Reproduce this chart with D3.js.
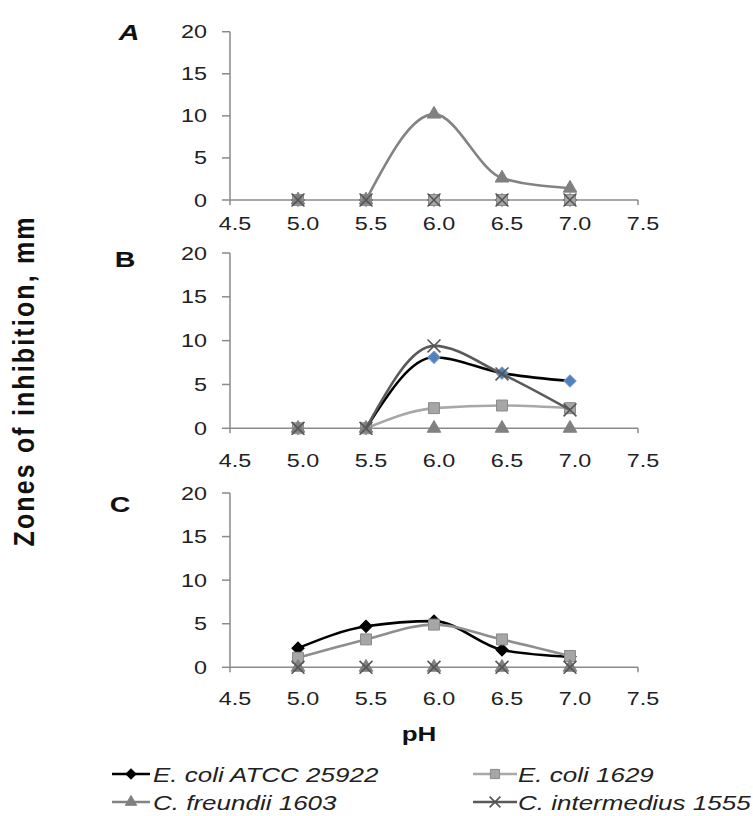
<!DOCTYPE html>
<html>
<head>
<meta charset="utf-8">
<script src="https://cdn.jsdelivr.net/npm/d3@7"></script>
<style>
  body { margin: 0; background: #fff; }
  text { font-family: "Liberation Sans", Arial, sans-serif; }
</style>
</head>
<body>
<div id="chart"></div>
<script>
// pH values measured, axis ticks
var phValues = [5.0, 5.5, 6.0, 6.5, 7.0];
var xTicks = [4.5, 5.0, 5.5, 6.0, 6.5, 7.0, 7.5];
var yTicks = [0, 5, 10, 15, 20];
var panelNames = ["A", "B", "C"];

// zones of inhibition (mm), one row per panel A, B, C
var ecoliAtcc = [
  [0, 0, 0, 0, 0],
  [0, 0, 8.1, 6.3, 5.4],
  [2.2, 4.7, 5.3, 2.0, 1.2]
];
var ecoli1629 = [
  [0, 0, 0, 0, 0],
  [0, 0, 2.3, 2.6, 2.3],
  [1.1, 3.2, 4.9, 3.2, 1.3]
];
var cFreundii = [
  [0, 0, 10.2, 2.6, 1.4],
  [0, 0, 0, 0, 0],
  [0, 0, 0, 0, 0]
];
var cIntermedius = [
  [0, 0, 0, 0, 0],
  [0, 0, 9.4, 6.2, 2.1],
  [0, 0, 0, 0, 0]
];
var seriesNames = ["E. coli ATCC 25922", "E. coli 1629", "C. freundii 1603", "C. intermedius 1555"];

var width = 753;
var height = 816;
var sx = 1.3; // text in the source is stretched sideways

var svg = d3.select("#chart")
  .append("svg")
  .attr("width", width)
  .attr("height", height);

var x = d3.scaleLinear()
  .domain([4.5, 7.5])
  .range([230, 638]);

// top / bottom of each panel's y range, x label offset, panel letter pos
var panels = [
  { top: 31.7, bottom: 200, labDy: 30, lx: 129, ly: 39.5, italic: true },
  { top: 253, bottom: 428.3, labDy: 39, lx: 125, ly: 267, italic: false },
  { top: 493, bottom: 667.3, labDy: 38, lx: 120, ly: 512, italic: false }
];

var styles = [
  { line: "#000000", width: 2.6, sym: d3.symbolSquare, rot: 45, size: 75, fill: "#000000", stroke: "#000000" },
  { line: "#a8a8a8", width: 2.6, sym: d3.symbolSquare, rot: 0, size: 120, fill: "#a6a6a6", stroke: "#8a8a8a" },
  { line: "#838383", width: 2.6, sym: d3.symbolTriangle, rot: 0, size: 80, fill: "#808080", stroke: "#808080" },
  { line: "#5a5a5a", width: 2.6, sym: d3.symbolTimes, rot: 0, size: 110, fill: "none", stroke: "#555555" }
];

function stretchedText(g, tx, ty, str) {
  return g.append("text")
    .attr("transform", "translate(" + tx + "," + ty + ") scale(" + sx + ",1)")
    .text(str);
}

panels.forEach(function(p, pi) {
  var y = d3.scaleLinear()
    .domain([0, 20])
    .range([p.bottom, p.top]);

  var g = svg.append("g");

  // y axis
  g.append("line")
    .attr("x1", x(4.5)).attr("x2", x(4.5))
    .attr("y1", y(0)).attr("y2", y(20))
    .attr("stroke", "#8a8a8a").attr("stroke-width", 1.5);

  yTicks.forEach(function(t) {
    g.append("line")
      .attr("x1", x(4.5) - 8).attr("x2", x(4.5))
      .attr("y1", y(t)).attr("y2", y(t))
      .attr("stroke", "#8a8a8a").attr("stroke-width", 1.5);
    stretchedText(g, 207, y(t) + 6.5, t)
      .attr("text-anchor", "end")
      .attr("font-size", 18)
      .attr("fill", "#222");
  });

  // x axis
  g.append("line")
    .attr("x1", x(4.5)).attr("x2", x(7.5))
    .attr("y1", y(0)).attr("y2", y(0))
    .attr("stroke", "#8a8a8a").attr("stroke-width", 1.5);

  [4.5, 7.5].forEach(function(t) {
    g.append("line")
      .attr("x1", x(t)).attr("x2", x(t))
      .attr("y1", y(0)).attr("y2", y(0) + 5)
      .attr("stroke", "#8a8a8a").attr("stroke-width", 1.5);
  });

  xTicks.forEach(function(t) {
    stretchedText(g, x(t) + 5, y(0) + p.labDy, d3.format(".1f")(t))
      .attr("text-anchor", "middle")
      .attr("font-size", 18)
      .attr("fill", "#222");
  });

  // panel letter
  stretchedText(g, p.lx, p.ly, panelNames[pi])
    .attr("text-anchor", "middle")
    .attr("font-size", 22)
    .attr("font-weight", "bold")
    .attr("font-style", p.italic ? "italic" : "normal")
    .attr("fill", "#111");

  [ecoliAtcc, ecoli1629, cFreundii, cIntermedius].forEach(function(series, si) {
    var st = styles[si];
    var vals = series[pi];
    var lineColor = st.line;
    if (si == 1 && pi == 2) lineColor = "#8e8e8e";

    // lines lying on the zero axis are not visible in the source
    var first = vals.findIndex(function(d) { return d > 0; });
    if (first >= 0) {
      var start = Math.max(0, first - 1);
      var line = d3.line()
        .defined(function(d, i) { return i >= start; })
        .x(function(d, i) { return x(phValues[i]); })
        .y(function(d) { return y(d); })
        .curve(d3.curveMonotoneX);
      g.append("path")
        .attr("d", line(vals))
        .attr("fill", "none")
        .attr("stroke", lineColor)
        .attr("stroke-width", st.width);
    }

    var fill = st.fill, stroke = st.stroke;
    if (si == 0 && pi == 1) { fill = "#4f81bd"; stroke = "#7399cc"; }

    g.selectAll(null)
      .data(vals)
      .enter()
      .append("path")
      .attr("d", d3.symbol().type(st.sym).size(st.size))
      .attr("transform", function(d, i) {
        return "translate(" + x(phValues[i]) + "," + y(d) + ") rotate(" + st.rot + ")";
      })
      .attr("fill", fill)
      .attr("stroke", stroke)
      .attr("stroke-width", si == 3 ? 1.6 : 1);
  });
});

// axis titles
svg.append("text")
  .attr("transform", "translate(34,382) scale(1.15,1) rotate(-90)")
  .attr("text-anchor", "middle")
  .attr("font-size", 25)
  .attr("font-weight", "bold")
  .attr("fill", "#111")
  .attr("textLength", 329)
  .attr("lengthAdjust", "spacing")
  .text("Zones of inhibition, mm");

stretchedText(svg, 419, 740.5, "pH")
  .attr("text-anchor", "middle")
  .attr("font-size", 20)
  .attr("font-weight", "bold")
  .attr("fill", "#111");

// legend
var legendPos = [
  { x1: 112, x2: 150, tx: 153, y: 774 },
  { x1: 473, x2: 517, tx: 518, y: 774 },
  { x1: 112, x2: 150, tx: 153, y: 802 },
  { x1: 473, x2: 517, tx: 518, y: 802 }
];

legendPos.forEach(function(lp, i) {
  var st = styles[i];
  svg.append("line")
    .attr("x1", lp.x1).attr("x2", lp.x2)
    .attr("y1", lp.y).attr("y2", lp.y)
    .attr("stroke", st.line)
    .attr("stroke-width", st.width);
  svg.append("path")
    .attr("d", d3.symbol().type(st.sym).size(st.size * 0.7))
    .attr("transform", "translate(" + ((lp.x1 + lp.x2) / 2) + "," + lp.y + ") rotate(" + st.rot + ")")
    .attr("fill", st.fill)
    .attr("stroke", st.stroke)
    .attr("stroke-width", i == 3 ? 1.6 : 1);
  stretchedText(svg, lp.tx, lp.y + 7.5, seriesNames[i])
    .attr("font-size", 20)
    .attr("font-style", "italic")
    .attr("fill", "#222");
});
</script>
</body>
</html>
